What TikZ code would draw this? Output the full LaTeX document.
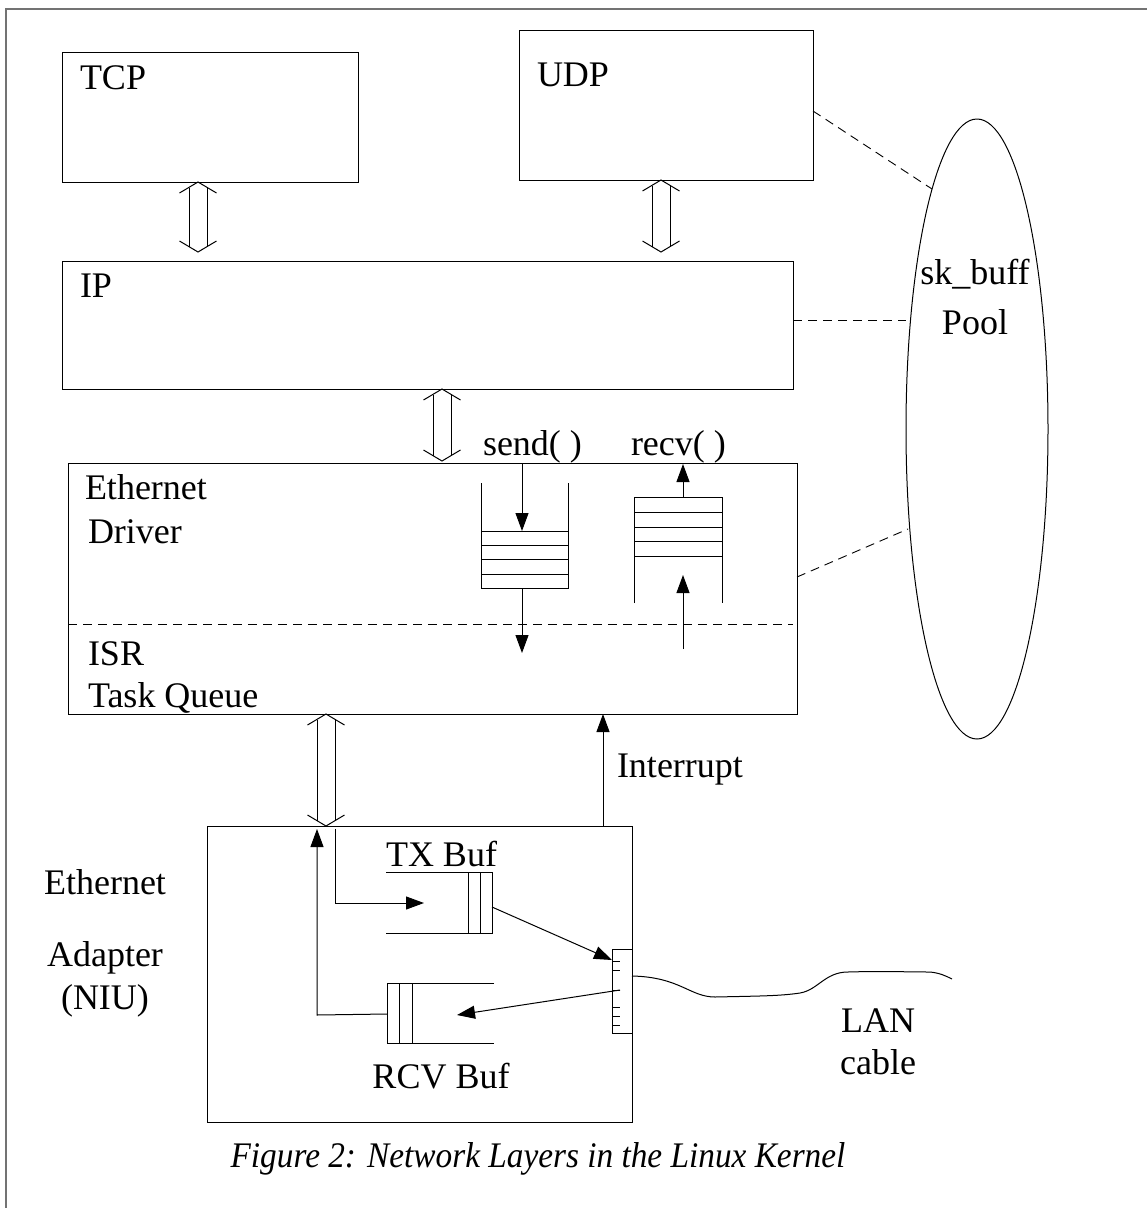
\documentclass[tikz,border=0pt]{standalone}
\usepackage{fontspec}
\setmainfont{Liberation Serif}
\usetikzlibrary{arrows.meta,shapes.geometric}
\newcommand\dblarr[3]{%
  \draw ({#1-18.5},{#2+11}) -- (#1,#2) -- ({#1+18.5},{#2+11});
  \draw ({#1-18.5},{#3-11}) -- (#1,#3) -- ({#1+18.5},{#3-11});
  \draw ({#1-9},{#2+5.5}) -- ({#1-9},{#3-5.5});
  \draw ({#1+9},{#2+5.5}) -- ({#1+9},{#3-5.5});
}
\begin{document}
\begin{tikzpicture}[x=1pt,y=-1pt,line width=1pt,
  every node/.style={font=\fontsize{36}{43}\selectfont, inner sep=0pt, outer sep=0pt},
  box/.style={draw, line width=1pt, anchor=north west},
  lbl/.style={anchor=base west},
  clbl/.style={anchor=base},
  arr/.style={-{Triangle[length=18pt,width=13pt]}},
  dsh/.style={dash pattern=on 9pt off 6pt, line width=0.9pt},
  frame/.style={draw=black!55, line width=1.6pt}]
\useasboundingbox (0,0) rectangle (1147,1208);
\begin{scope}
  \clip (0,0) rectangle (1147,1208);
  \draw[frame] (6,9) rectangle (1170,1230);
\end{scope}

% boxes
\node[box, minimum width=296pt, minimum height=130pt] (tcp) at (62,52) {};
\node[box, minimum width=294pt, minimum height=150pt] (udp) at (519,30) {};
\node[box, minimum width=731pt, minimum height=128pt] (ip) at (62,261) {};
\node[box, minimum width=729pt, minimum height=251pt] (eth) at (68,463) {};
\node[box, minimum width=425pt, minimum height=296pt] (nic) at (207,826) {};
\node[box, minimum width=20pt, minimum height=84pt] (conn) at (612,949) {};
\node[draw, ellipse, minimum width=142pt, minimum height=620pt] (pool) at (977,429) {};

% labels
\node[lbl] (ttcp) at (80,89) {TCP};
\node[lbl] (tudp) at (537,86) {UDP};
\node[lbl] (tip) at (80,297) {IP};
\node[lbl] (teth1) at (85,499) {Ethernet};
\node[lbl] (teth2) at (88,543) {Driver};
\node[lbl] (tisr1) at (88,665) {ISR};
\node[lbl] (tisr2) at (88,707) {Task Queue};
\node[lbl] (tsend) at (483,455) {send( )};
\node[lbl] (trecv) at (631,455) {recv( )};
\node[lbl] (tint) at (617,777) {Interrupt};
\node[lbl] (ttx) at (386,866) {TX Buf};
\node[clbl] (trcv) at (441,1088) {RCV Buf};
\node[clbl] (tad1) at (105,894) {Ethernet};
\node[clbl] (tad2) at (105,966) {Adapter};
\node[clbl] (tad3) at (105,1009) {(NIU)};
\node[clbl] (tlan1) at (878,1032) {LAN};
\node[clbl] (tlan2) at (878,1074) {cable};
\node[clbl] (tsk1) at (975,284) {sk\_buff};
\node[clbl] (tsk2) at (975,334) {Pool};
\node[clbl, xscale=0.925] (cap) at (538,1167) {\itshape Figure 2: Network Layers in the Linux Kernel};

% double arrows
\dblarr{198}{182}{252}
\dblarr{661}{180}{252}
\dblarr{442}{389}{461}
\dblarr{326}{714}{826}

% dashed links to the pool
\coordinate (p1) at (932,189);
\coordinate (p2) at (906,320);
\coordinate (p3) at (908,529);
\draw[dsh] (udp.east |- 0,111) -- (p1);
\draw[dsh] (ip.east |- 0,320) -- (p2);
\draw[dsh] (eth.east |- 0,577) -- (p3);

% split line in the driver box
\draw[dsh] (eth.west |- 0,624) -- (793,624);

% send queue
\draw (481,483) -- (481,588) -- (568,588) -- (568,483);
\foreach \y in {531,545,559,574} \draw (481,\y) -- (568,\y);
\coordinate (sq) at (522,531);
\draw[arr] (eth.north -| sq) -- (sq);
\draw[arr] (522,588) -- (522,653);

% recv queue
\draw (634,603) -- (634,497) -- (722,497) -- (722,603);
\foreach \y in {512,527,541,556} \draw (634,\y) -- (722,\y);
\coordinate (rq) at (683,497);
\draw[arr] (rq) -- (683,464);
\draw[arr] (683,649) -- (683,575);

% TX buffer
\draw (386,872) -- (492,872) -- (492,933) -- (386,933);
\draw (468,872) -- (468,933);
\draw (480,872) -- (480,933);
% RCV buffer
\draw (494,983) -- (387,983) -- (387,1043) -- (494,1043);
\draw (399,983) -- (399,1043);
\draw (412,983) -- (412,1043);

% connector ticks
\foreach \y in {961,970,990,1007,1016,1025} \draw (612,\y) -- (620,\y);

% adapter arrows
\draw[arr] (335,829) -- (335,903) -- (424,903);
\draw[arr] (492,907) -- (612,960);
\draw[arr] (620,990) -- (457,1015);
\draw[arr] (387,1014) -- (317,1015) -- (317,829);
\draw[arr] (nic.north -| 603,0) -- (eth.south -| 603,0);

% LAN cable
\draw (conn.east |- 0,976) .. controls (680,977) and (690,997) .. (715,997)
  .. controls (760,996) and (780,996) .. (800,993)
  .. controls (818,990) and (825,972) .. (848,972)
  .. controls (880,971) and (910,972) .. (930,972)
  .. controls (940,973) and (946,976) .. (952,979);
\end{tikzpicture}
\end{document}
